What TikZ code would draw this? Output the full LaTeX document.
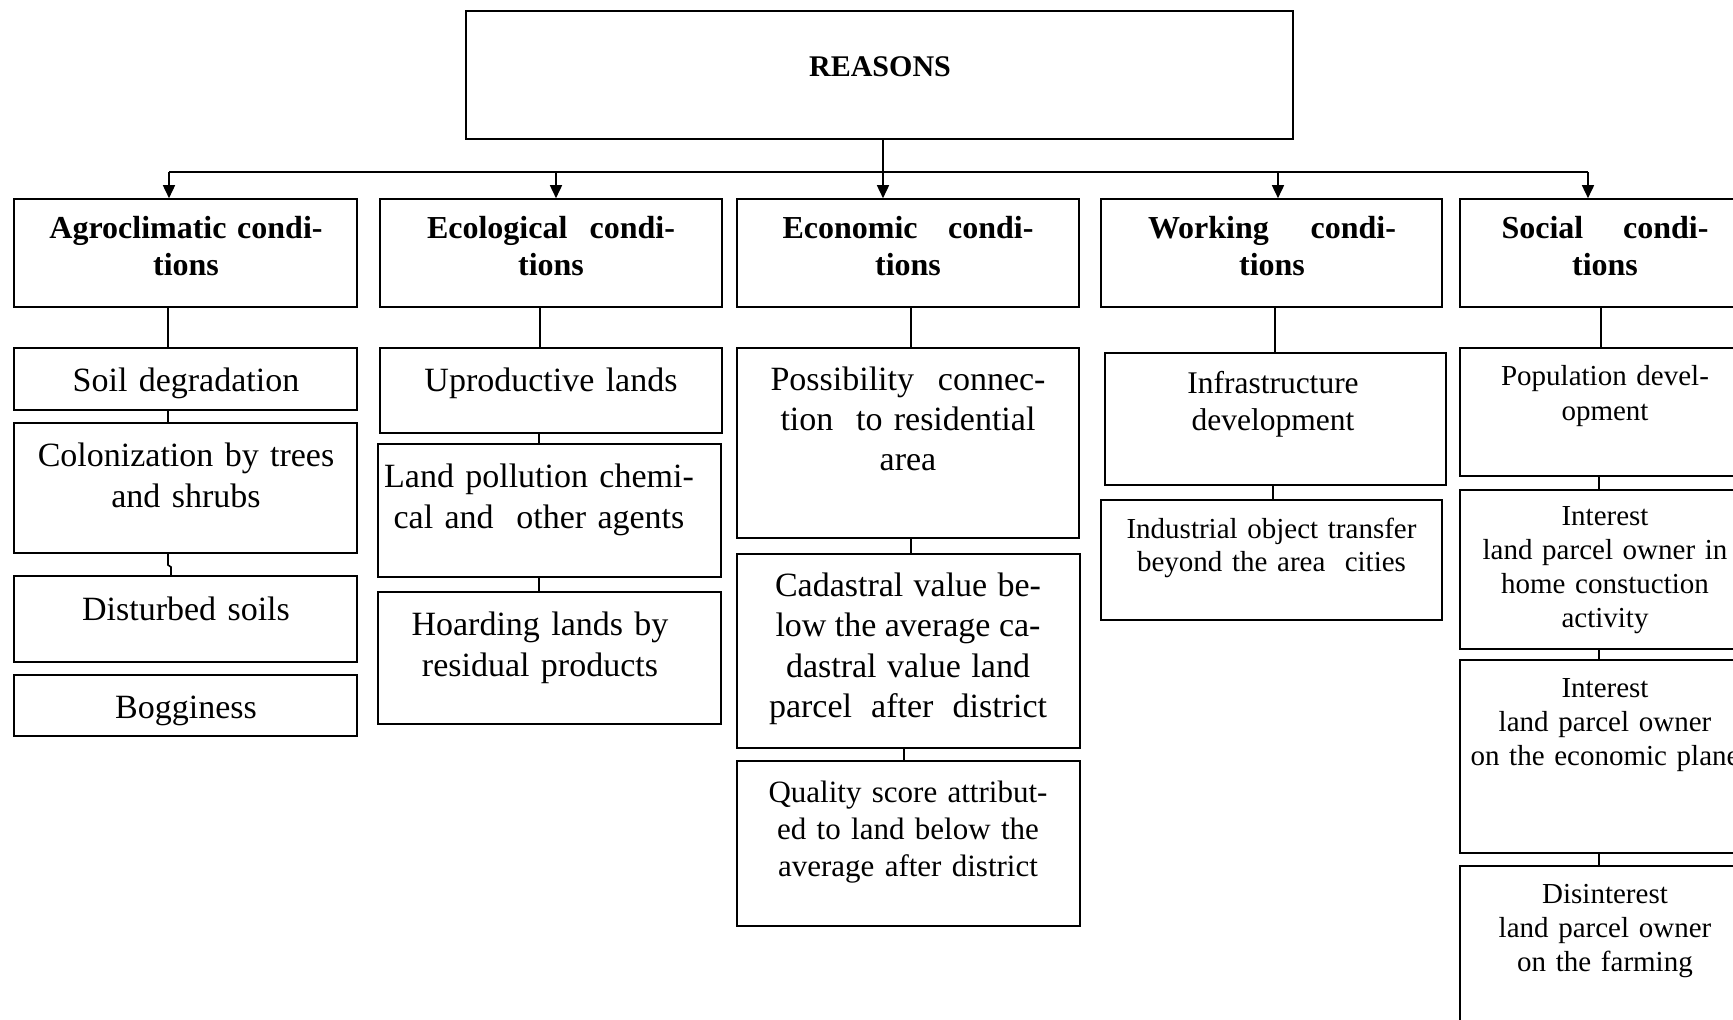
\documentclass[tikz,border=0pt]{standalone}
\usepackage{fontspec}
\setmainfont{Liberation Serif}
\usetikzlibrary{arrows.meta}
\newcommand\fbig{\fontsize{34}{41}\selectfont}
\newcommand\fhd{\bfseries\fontsize{32}{37.6}\selectfont}
\newcommand\fmid{\fontsize{31.5}{37.5}\selectfont}
\newcommand\fsm{\fontsize{29}{34}\selectfont}
\newcommand\fsmb{\fontsize{29}{33}\selectfont}
\newcommand\mybox[5]{\node[box, minimum width={#4pt-#2pt}, minimum height={#5pt-#3pt}] (#1) at ({(#2+#4)/2},{(#3+#5)/2}) {};}
\newcommand\mytxt[5]{\node[txt, font=#4] (#1) at (#2,#3) {#5};}
\begin{document}
\begin{tikzpicture}[x=1pt,y=-1pt,
  box/.style={draw, line width=1.6pt, inner sep=0pt, rectangle},
  txt/.style={inner sep=0pt, text width=440pt, align=center, anchor=base},
  conn/.style={line width=1.6pt},
  arr/.style={line width=1.6pt, -{Triangle[length=13pt,width=12pt]}}]
\useasboundingbox (0,0) rectangle (1733,1020);
\clip (0,0) rectangle (1733,1020);
\fill[white] (0,0) rectangle (1733,1020);

% boxes
\mybox{reasons}{466}{11}{1293}{139}
\mybox{agro}{14}{199}{357}{307}
\mybox{ecol}{380}{199}{722}{307}
\mybox{econ}{737}{199}{1079}{307}
\mybox{work}{1101}{199}{1442}{307}
\mybox{soc}{1460}{199}{1750}{307}

\mybox{soil}{14}{348}{357}{410}
\mybox{colon}{14}{423}{357}{553}
\mybox{dist}{14}{576}{357}{662}
\mybox{bog}{14}{675}{357}{736}

\mybox{upro}{380}{348}{722}{433}
\mybox{poll}{378}{444}{721}{577}
\mybox{hoard}{378}{592}{721}{724}

\mybox{poss}{737}{348}{1079}{538}
\mybox{cad}{737}{554}{1080}{748}
\mybox{qual}{737}{761}{1080}{926}

\mybox{infra}{1105}{353}{1446}{485}
\mybox{indus}{1101}{500}{1442}{620}

\mybox{pop}{1460}{348}{1750}{476}
\mybox{intA}{1460}{490}{1750}{649}
\mybox{intB}{1460}{660}{1750}{853}
\mybox{disint}{1460}{866}{1750}{1040}

% texts
\mytxt{reasons-t}{880}{76.5}{\bfseries\fontsize{30}{36}\selectfont}{REASONS}
\mytxt{agro-t}{186}{238}{\fhd}{Agroclimatic condi-\\tions}
\mytxt{ecol-t}{551}{238}{\fhd}{\makebox[248pt]{Ecological\hfill condi-}\\tions}
\mytxt{econ-t}{908}{238}{\fhd}{\makebox[251pt]{Economic\hfill condi-}\\tions}
\mytxt{work-t}{1272}{238}{\fhd}{\makebox[248pt]{Working\hfill condi-}\\tions}
\mytxt{soc-t}{1605}{238}{\fhd}{\makebox[207pt]{Social\hfill condi-}\\tions}

\mytxt{soil-t}{186}{391}{\fbig}{Soil degradation}
\mytxt{colon-t}{186}{466.5}{\fbig}{Colonization by trees\\and shrubs}
\mytxt{dist-t}{186}{620}{\fbig}{Disturbed soils}
\mytxt{bog-t}{186}{718.5}{\fbig}{Bogginess}

\mytxt{upro-t}{551}{391}{\fbig}{Uproductive lands}
\mytxt{poll-t}{539}{487.5}{\fbig}{Land pollution chemi-\\cal and\ \ other agents}
\mytxt{hoard-t}{540}{635.6}{\fbig}{Hoarding lands by\\residual products}

\mytxt{poss-t}{908}{390.3}{\fontsize{34}{40.3}\selectfont}{\makebox[275pt]{Possibility\hfill connec-}\\tion\ \ to residential\\area}
\mytxt{cad-t}{908}{596}{\fontsize{34}{40.5}\selectfont}{\makebox[266pt]{Cadastral\hfill value\hfill be-}\\\makebox[265pt]{low\hfill the\hfill average\hfill ca-}\\\makebox[244pt]{dastral\hfill value\hfill land}\\\makebox[278pt]{parcel\hfill after\hfill district}}
\mytxt{qual-t}{908}{802.6}{\fontsize{31}{37}\selectfont}{Quality score attribut-\\ed to land below the\\average after district}

\mytxt{infra-t}{1273}{393}{\fmid}{Infrastructure\\development}
\mytxt{indus-t}{1271.5}{538}{\fsmb}{Industrial object transfer\\beyond the area\ \ cities}

\mytxt{pop-t}{1605}{385.4}{\fontsize{29}{35.4}\selectfont}{Population devel-\\opment}
\mytxt{intA-t}{1605}{525.7}{\fsm}{Interest\\land parcel owner in\\home constuction\\activity}
\mytxt{intB-t}{1605}{697}{\fsm}{Interest\\land parcel owner\\on the economic plane}
\mytxt{disint-t}{1605}{903.7}{\fsm}{Disinterest\\land parcel owner\\on the farming}

% bus and arrows
\coordinate (b1) at (169,172);
\coordinate (b2) at (556,172);
\coordinate (bm) at (883,172);
\coordinate (b4) at (1278,172);
\coordinate (b5) at (1588,172);
\draw[conn] (reasons.south -| bm) -- (bm);
\draw[conn] (b1) -- (b5);
\draw[arr] (b1) -- (b1 |- agro.north);
\draw[arr] (b2) -- (b2 |- ecol.north);
\draw[arr] (bm) -- (bm |- econ.north);
\draw[arr] (b4) -- (b4 |- work.north);
\draw[arr] (b5) -- (b5 |- soc.north);

% column connectors
\draw[conn] (agro.south -| 168,0) -- (soil.north -| 168,0);
\draw[conn] (soil.south -| 168,0) -- (colon.north -| 168,0);
\draw[conn] (colon.south -| 168,0) -- (168,565) -- (171,567) -- (dist.north -| 171,0);

\draw[conn] (ecol.south -| 540,0) -- (upro.north -| 540,0);
\draw[conn] (upro.south -| 539,0) -- (poll.north -| 539,0);
\draw[conn] (poll.south -| 539,0) -- (hoard.north -| 539,0);

\draw[conn] (econ.south -| 911,0) -- (poss.north -| 911,0);
\draw[conn] (poss.south -| 911,0) -- (cad.north -| 911,0);
\draw[conn] (cad.south -| 904,0) -- (qual.north -| 904,0);

\draw[conn] (work.south -| 1275,0) -- (infra.north -| 1275,0);
\draw[conn] (infra.south -| 1273,0) -- (indus.north -| 1273,0);

\draw[conn] (soc.south -| 1601,0) -- (pop.north -| 1601,0);
\draw[conn] (pop.south -| 1599,0) -- (intA.north -| 1599,0);
\draw[conn] (intA.south -| 1599,0) -- (intB.north -| 1599,0);
\draw[conn] (intB.south -| 1599,0) -- (disint.north -| 1599,0);
\end{tikzpicture}
\end{document}
